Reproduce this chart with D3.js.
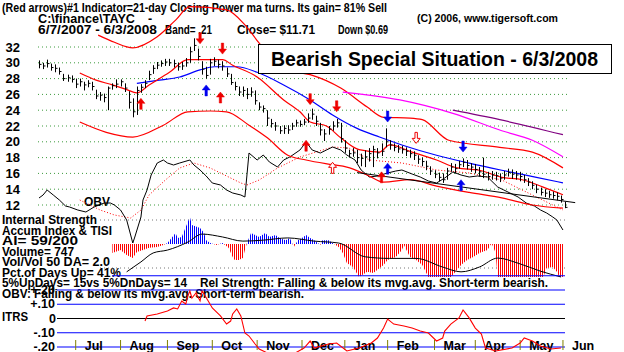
<!DOCTYPE html>
<html>
<head>
<meta charset="utf-8">
<script src="https://cdn.jsdelivr.net/npm/d3@7"></script>
<style>
  body { margin: 0; background: #fff; }
  svg { display: block; font-family: "Liberation Sans", Arial, sans-serif; font-weight: bold; }
</style>
</head>
<body>
<div id="chart"></div>
<script>
// price bars, one bar per two trading days (6/7/2007 .. 6/3/2008)
const closes = [29.8,29.6,29.9,29.4,29.3,28.9,28.0,28.1,27.9,27.3, 27.6,27.2,27.4,27.0,25.8,25.9,25.6,26.8,27.1,27.3,
  27.6,26.8,25.0,23.8,26.5,26.9,27.4,28.5,29.3,29.7, 29.9,30.1,30.0,29.9,29.5,29.6,30.0,31.4,32.2,30.8,
  29.2,28.4,30.0,30.2,29.8,29.6,28.6,27.5,27.0,26.3, 26.5,26.0,26.3,25.2,24.4,24.2,23.0,22.3,22.0,21.4,
  21.7,21.5,22.0,22.4,22.2,22.5,23.0,23.5,22.6,21.5, 21.0,21.6,22.0,22.4,20.4,19.2,18.5,18.6,18.0,17.9,
  18.1,18.5,19.0,18.6,18.8,20.0,19.6,19.3,19.1,19.0, 18.8,18.5,18.3,17.8,17.5,16.9,16.3,15.9,15.5,15.2,
  16.3,16.8,16.6,17.1,17.4,17.0,16.8,16.5,16.2,15.9, 15.6,15.8,15.7,15.4,15.8,16.1,15.9,15.8,15.6,15.2,
  14.9,14.5,14.0,13.6,13.5,13.3,13.2,13.1,12.7,11.7];
const highs = [30.3,30.0,30.4,29.9,29.8,29.4,28.6,28.5,28.4,28.0, 28.0,27.6,27.8,27.6,26.6,26.3,26.1,27.0,27.4,27.9,
  27.9,27.4,26.4,25.5,27.0,27.3,27.8,29.0,29.7,30.1, 30.3,30.5,30.5,30.4,30.0,30.1,30.6,32.0,33.1,31.8,
  30.2,29.5,30.5,30.7,30.4,30.2,29.4,28.6,27.6,27.0, 27.0,26.8,26.9,26.5,25.0,24.6,24.0,22.9,22.5,22.0,
  22.1,22.1,22.4,22.8,22.7,22.9,23.6,24.2,23.3,22.4, 21.6,22.0,22.6,22.9,22.4,20.2,19.0,19.2,19.0,18.5,
  18.9,19.2,19.5,19.2,19.8,21.7,20.2,19.8,19.6,19.5, 19.3,19.0,18.8,18.3,18.0,17.6,16.9,16.4,16.1,16.0,
  16.7,17.3,17.2,17.6,17.9,17.7,17.3,17.2,16.8,18.0, 16.2,16.3,16.2,16.0,16.3,16.6,16.5,16.3,16.2,15.8,
  15.4,15.0,14.6,14.2,14.0,13.8,13.7,13.6,13.2,12.4];
const lows = [29.3,29.2,29.4,29.0,28.8,28.5,27.7,27.6,27.5,26.8, 27.0,26.5,26.9,26.5,25.4,25.2,25.0,24.0,26.6,26.8,
  27.0,26.3,24.2,23.1,23.4,26.2,26.8,27.8,28.6,29.2, 29.5,29.6,29.6,29.4,29.0,29.1,29.5,30.0,31.5,30.3,
  28.5,28.0,28.5,29.6,29.3,29.0,28.2,27.2,26.5,25.8, 25.7,25.4,25.7,24.7,24.0,23.7,22.0,21.8,21.4,21.0,
  21.0,21.0,21.5,21.9,21.9,22.1,22.4,22.8,22.0,20.8, 20.1,20.9,21.4,21.8,19.9,18.6,18.0,18.1,17.3,16.9,
  16.8,17.5,16.8,17.9,18.2,19.3,19.0,18.8,18.6,18.5, 18.2,18.0,17.7,17.2,16.9,16.4,15.8,15.4,15.0,14.8,
  15.2,16.2,16.0,16.6,16.8,16.5,16.2,16.0,15.6,15.4, 15.1,15.2,15.1,14.9,15.2,15.6,15.3,15.2,15.0,14.8,
  14.4,14.0,13.5,13.2,13.0,12.9,12.8,12.6,12.3,11.6];

// bands and moving averages: [trading day, price]
const upperBand = [[29,33.5],[37,32.6],[46,31.9],[58,33.3],[67,35.4],[74,37.1],[92,36.7],[101,34.8],[108,32.5],[122,29.1],
  [133,28.5],[148,26.8],[161,24.4],[169,23.1],[182,23.0],[188,22.8],[201,20.2],[226,19.3],[242,18.7],[257,16.7]];
const lowerBand = [[20,22.5],[33,21.2],[46,20.6],[61,22.1],[73,23.8],[84,23.9],[92,23.8],[103,22.1],[112,20.5],[122,18.3],
  [131,17.7],[144,17.1],[151,16.8],[161,15.8],[169,14.9],[182,15.2],[195,14.4],[211,13.6],[227,12.9],[242,12.0],[257,11.6]];
const redMa = [[20,28.7],[28,27.8],[36,27.2],[43,26.6],[48,26.2],[54,27.2],[64,28.8],[73,30.4],[84,30.4],[90,30.4],[95,29.7],
  [107,28.2],[120,25.3],[128,23.8],[133,22.5],[141,22.0],[148,20.5],[157,19.0],[167,18.7],[172,19.6],[183,18.7],[195,17.7],
  [205,16.7],[216,16.4],[227,15.5],[237,15.2],[247,14.3],[257,13.3]];
const blueMa = [[48,27.4],[59,27.8],[69,28.2],[79,29.1],[86,29.5],[97,29.5],[107,28.8],[120,27.2],[133,25.3],[144,23.4],
  [156,21.7],[167,20.6],[178,19.6],[195,18.3],[211,17.3],[227,16.4],[244,15.5],[257,14.8]];
const magentaMa = [[149,26.3],[177,25.3],[203,23.6],[227,21.4],[242,20.2],[257,18.1]];
const purpleMa = [[203,24.0],[226,22.8],[257,20.9]];
const trendLine = [[156,16.1],[263,12.3]];

// OBV (relative units) and its moving average
const obv = [[0,52],[2,55],[4,60],[7,55],[10,50],[13,44],[15,43],[19,40],[23,38],[27,43],[32,47],[35,47],[37,45],[40,40],
  [43,30],[46,7],[47,13],[50,33],[51,50],[53,60],[55,75],[58,87],[61,90],[63,87],[66,85],[69,87],[74,90],[76,85],[79,80],
  [82,74],[85,67],[89,65],[92,60],[95,57],[99,55],[101,53],[103,97],[107,90],[110,95],[113,88],[117,83],[120,90],[123,93],
  [128,100],[131,108],[134,100],[138,97],[141,100],[144,103],[148,100],[151,95],[155,90],[158,80],[162,73],[166,74],[171,77],
  [175,79],[178,80],[183,76],[187,73],[191,69],[195,67],[199,72],[203,78],[207,75],[211,73],[215,74],[220,73],[225,63],
  [228,60],[231,57],[235,53],[239,47],[243,44],[246,40],[249,37],[252,33],[254,30],[257,20]];
const obvMa = [[20,50],[30,40],[37,35],[45,32],[50,40],[54,55],[62,70],[69,82],[76,87],[84,82],[91,75],[99,67],[102,65],
  [108,70],[117,82],[128,93],[144,103],[152,102],[162,90],[178,87],[195,80],[211,77],[227,70],[242,55],[257,40]];

// Accumulation index and its moving average
const accum = [[36,-28],[40,-19],[43,-34],[46,-44],[48,-25],[51,-19],[54,-12],[58,-9],[61,-3],[63,3],[65,19],[67,34],[68,19],
  [70,22],[73,69],[74,84],[75,59],[79,50],[81,34],[82,12],[84,3],[87,-3],[90,3],[93,-12],[95,-41],[96,-50],[98,-50],[100,-44],
  [101,-19],[102,3],[104,34],[106,28],[108,22],[111,34],[113,22],[116,28],[118,19],[121,12],[123,19],[125,-9],[127,12],
  [129,19],[131,28],[133,19],[135,12],[138,-3],[139,12],[142,12],[144,3],[147,-9],[149,-28],[151,-59],[154,-72],[157,-103],
  [161,-87],[164,-91],[169,-66],[171,-50],[175,-41],[178,-19],[179,-3],[182,-41],[185,-50],[188,-66],[191,-103],[195,-112],
  [201,-112],[205,-81],[207,-66],[210,-50],[213,-41],[216,-28],[220,-19],[222,3],[224,-28],[225,-112],[229,-128],[246,-128],
  [249,-75],[252,-72],[254,-87],[257,-128]];
const accumMa = [[43,-87],[50,-56],[56,-28],[63,-19],[73,6],[80,31],[90,22],[100,9],[110,12],[122,19],[135,9],[147,3],
  [160,-40],[172,-45],[185,-45],[198,-72],[207,-87],[216,-72],[225,-44],[235,-60],[246,-85],[256,-103]];

// ITRS
const itrs = [[52,-0.018],[53,0.018],[58,0.032],[63,0.053],[66,0.074],[68,0.067],[70,0.123],[72,0.102],[73,0.158],[74,0.193],
  [75,0.144],[77,0.179],[79,0.123],[80,0.193],[83,0.123],[85,0.074],[89,0.018],[92,-0.039],[94,-0.018],[95,0.032],[97,0.067],
  [99,0.018],[101,-0.102],[103,-0.123],[106,-0.179],[108,-0.214],[112,-0.242],[118,-0.284],[124,-0.256],[130,-0.207],
  [133,-0.158],[135,-0.207],[142,-0.179],[146,-0.172],[151,-0.228],[157,-0.207],[163,-0.172],[166,-0.137],[169,-0.067],
  [171,-0.004],[174,-0.039],[179,-0.053],[183,-0.067],[187,-0.088],[191,-0.102],[195,-0.158],[198,-0.137],[199,-0.088],
  [202,-0.039],[206,0.004],[208,0.06],[211,0.004],[214,-0.067],[217,-0.109],[219,-0.207],[224,-0.228],[232,-0.207],
  [236,-0.172],[238,-0.137],[242,-0.158],[246,-0.193],[251,-0.214],[256,-0.207]];

// signals: [day, price at arrow tip, direction, colour, hollow]
const signals = [[79,32.4,'down','red',0],[90,31.1,'down','red',0],[50,25.5,'up','red',0],[89,26.3,'up','red',0],
  [82,27.2,'up','blue',0],[133,24.7,'down','red',0],[146,23.8,'down','red',0],[131,20.2,'up','red',0],[144,17.4,'up','red',1],
  [171,22.5,'down','blue',0],[171,17.3,'up','blue',0],[168,16.2,'up','red',0],[185,19.8,'down','red',1],
  [208,18.7,'down','blue',0],[207,15.2,'up','blue',0]];

const priceTicks = [12,14,16,18,20,22,24,26,28,30,32];
const monthLabels = ['Jul','Aug','Sep','Oct','Nov','Dec','Jan','Feb','Mar','Apr','May','Jun'];
const monthDays = [18,40,63,85,107,129,150,171,194,214,236,257];
const itrsLevels = [0.3,0.2,0.1,-0.1,-0.2];
const itrsLabels = [['+.20',0.2],['+.10',0.1],['0',0],['-.10',-0.1],['-.20',-0.2]];

const svg = d3.select('#chart').append('svg').attr('width', 624).attr('height', 352);

const x = d3.scaleLinear().domain([0, 258]).range([39, 565]);
const y = d3.scaleLinear().domain([12, 32]).range([205, 47]);
const obvY = d3.scaleLinear().domain([0, 100]).range([250, 150]);
const aiY = d3.scaleLinear().domain([-100, 100]).range([276, 212]);
const itrsY = d3.scaleLinear().domain([-0.2, 0.2]).range([347, 290]);

function txt(s, tx, ty, size, len, anchor) {
  const t = svg.append('text').attr('x', tx).attr('y', ty)
    .attr('font-size', size).attr('text-anchor', anchor || 'start').text(s);
  if (len) t.attr('textLength', len).attr('lengthAdjust', 'spacingAndGlyphs');
  return t;
}

// header text
txt('(Red arrows)#1 Indicator=21-day Closing Power ma turns. Its gain= 81% Sell', 2, 12, 12.5, 385);
txt('C:\\finance\\TAYC', 38, 23, 12.5, 97);
txt('-', 148, 23, 12.5);
txt('(C) 2006, www.tigersoft.com', 417, 22, 11.5, 141);
txt('6/7/2007 - 6/3/2008', 38, 34, 12.5, 119);
txt('Band= .21', 165, 34, 12.5, 47);
txt('Close= $11.71', 237, 34, 12.5, 78);
txt('Down $0.69', 338, 34, 12.5, 50);

// left column
txt('Internal Strength', 2, 224, 12.5, 95);
txt('Accum Index & TISI', 2, 235, 12.5, 110);
txt('AI= 59/200', 2, 245, 12.5, 76);
txt('Volume= 747', 2, 256, 12.5, 72);
txt('Vol/Vol 50 DA= 2.0', 2, 266, 12.5, 108);
txt('Pct.of Days Up= 41%', 2, 277, 12.5, 119);
txt('5%UpDays= 15vs 5%DnDays= 14', 2, 287, 12.5, 185);
txt('Rel Strength: Falling & below its mvg.avg. Short-term bearish.', 200, 287, 12.5, 348);
txt('OBV: Falling & below its mvg.avg. Short-term bearish.', 2, 298, 12.5, 302);
txt('ITRS', 2, 321, 12.5, 26);
txt('OBV', 84, 206, 13, 26);

// price grid
priceTicks.forEach(p => {
  svg.append('line').attr('x1', 38).attr('x2', 567).attr('y1', y(p)).attr('y2', y(p))
    .attr('stroke', '#3c9a3c').attr('stroke-dasharray', '1,3');
  txt(p, 20, y(p) + 4.5, 13, null, 'end');
});
[75, -75].forEach(v => {
  svg.append('line').attr('x1', 100).attr('x2', 567).attr('y1', aiY(v)).attr('y2', aiY(v))
    .attr('stroke', '#777').attr('stroke-dasharray', '1,3');
});

// accumulation histogram drawn as striped area
const defs = svg.append('defs');
[['redStripe', '#ff0000'], ['blueStripe', '#0000ff']].forEach(([id, c]) => {
  const p = defs.append('pattern').attr('id', id).attr('patternUnits', 'userSpaceOnUse')
    .attr('width', 2).attr('height', 4);
  p.append('rect').attr('width', 1).attr('height', 4).attr('fill', c);
});
defs.append('clipPath').attr('id', 'clipUp').append('rect')
  .attr('x', 0).attr('y', 200).attr('width', 624).attr('height', aiY(0) - 200);
defs.append('clipPath').attr('id', 'clipDown').append('rect')
  .attr('x', 0).attr('y', aiY(0)).attr('width', 624).attr('height', 277 - aiY(0));
const aiArea = d3.area().x(d => x(d[0])).y0(aiY(0)).y1(d => aiY(d[1]));
svg.append('path').datum(accum).attr('d', aiArea).attr('fill', 'url(#blueStripe)').attr('clip-path', 'url(#clipUp)');
svg.append('path').datum(accum).attr('d', aiArea).attr('fill', 'url(#redStripe)').attr('clip-path', 'url(#clipDown)');
const aiLine = d3.line().x(d => x(d[0])).y(d => aiY(d[1])).curve(d3.curveMonotoneX);
svg.append('path').datum(accumMa).attr('d', aiLine).attr('fill', 'none')
  .attr('stroke', '#000').attr('stroke-width', 1);

// ITRS panel
itrsLevels.forEach(v => {
  svg.append('line').attr('x1', v > 0.25 ? 112 : 57).attr('x2', 565)
    .attr('y1', itrsY(v)).attr('y2', itrsY(v)).attr('stroke', '#0000ff').attr('stroke-width', 1.2);
});
svg.append('line').attr('x1', 57).attr('x2', 565).attr('y1', itrsY(0)).attr('y2', itrsY(0))
  .attr('stroke', '#000').attr('stroke-width', 1.2);
itrsLabels.forEach(([s, v]) => txt(s, s === '0' ? 56 : 55, itrsY(v) + 4, 12.5, null, 'end'));

monthLabels.forEach((m, i) => {
  const mx = x(monthDays[i]);
  svg.append('line').attr('x1', mx).attr('x2', mx).attr('y1', 340).attr('y2', 350)
    .attr('stroke', '#808000');
  txt(m, mx + 9, 350, 12.5);
});
const itrsLine = d3.line().x(d => x(d[0])).y(d => itrsY(d[1]));
svg.append('path').datum(itrs).attr('d', itrsLine).attr('fill', 'none')
  .attr('stroke', '#ff0000').attr('stroke-width', 1.1);

// price panel lines
const pLine = d3.line().x(d => x(d[0])).y(d => y(d[1])).curve(d3.curveMonotoneX);
function drawLine(data, color, w, dash, gen) {
  svg.append('path').datum(data).attr('d', gen || pLine).attr('fill', 'none')
    .attr('stroke', color).attr('stroke-width', w).attr('stroke-dasharray', dash || null);
}
const obvLine = d3.line().x(d => x(d[0])).y(d => obvY(d[1]));
drawLine(obvMa, '#ff0000', 1, '1,2', obvLine);
drawLine(obv, '#000', 1, null, obvLine);
drawLine(upperBand, '#ff0000', 1.2);
drawLine(lowerBand, '#ff0000', 1.2);
drawLine(magentaMa, '#ff00ff', 1.2);
drawLine(purpleMa, '#800080', 1.2);
drawLine(blueMa, '#0000ff', 1.2);
drawLine(redMa, '#ff0000', 1.2);
drawLine(trendLine, '#000', 1);

// price bars
const bars = svg.append('g').attr('stroke', '#000').attr('stroke-width', 1);
closes.forEach((c, i) => {
  const bx = Math.round(x(i * 2)) + 0.5;
  bars.append('line').attr('x1', bx).attr('x2', bx).attr('y1', y(highs[i])).attr('y2', y(lows[i]));
  bars.append('line').attr('x1', bx).attr('x2', bx + 2).attr('y1', y(c)).attr('y2', y(c));
});

// signal arrows
const colorOf = { red: '#ee0000', blue: '#0000ee' };
signals.forEach(([d, p, dir, col, hollow]) => {
  const s = dir === 'up' ? 1 : -1;
  const path = `M0,0 L4,${5 * s} L1.2,${5 * s} L1.2,${11 * s} L-1.2,${11 * s} L-1.2,${5 * s} L-4,${5 * s} Z`;
  svg.append('path').attr('d', path)
    .attr('transform', `translate(${x(d)},${y(p)})`)
    .attr('fill', hollow ? '#fff' : colorOf[col])
    .attr('stroke', colorOf[col]).attr('stroke-width', hollow ? 1 : 0.5);
});

// headline box
svg.append('rect').attr('x', 258.5).attr('y', 44.5).attr('width', 353).attr('height', 29)
  .attr('fill', '#fff').attr('stroke', '#000');
txt('Bearish Special Situation - 6/3/2008', 271, 66, 20, 327);
</script>
</body>
</html>
